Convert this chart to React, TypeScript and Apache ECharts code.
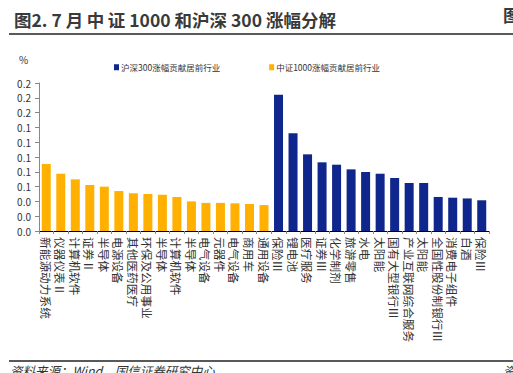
import React, { useEffect, useRef } from "react";
import * as echarts from "echarts";

const categories = [
  "新能源动力系统", "仪器仪表Ⅱ", "计算机软件", "证券Ⅱ", "半导体", "电源设备", "其他医药医疗", "环保及公用事业",
  "半导体", "计算机软件", "半导体", "电气设备", "元器件", "电气设备", "商用车", "通用设备",
  "保险Ⅲ", "锂电池", "医疗服务", "证券Ⅲ", "化学制剂", "旅游零售", "水电", "太阳能",
  "国有大型银行Ⅲ", "产业互联网综合服务", "太阳能", "全国性股份制银行Ⅲ", "消费电子组件", "白酒", "保险Ⅲ",
];

const zz1000Values = [0.0905, 0.0774, 0.0698, 0.0622, 0.0599, 0.054, 0.051, 0.05, 0.049, 0.046, 0.04, 0.038, 0.038, 0.0374, 0.0365, 0.035];
const hs300Values = [0.184, 0.132, 0.1036, 0.0928, 0.0896, 0.0833, 0.0797, 0.0774, 0.0716, 0.0649, 0.0649, 0.046, 0.045, 0.044, 0.0415];

const hs300Name = "沪深300涨幅贡献居前行业";
const zz1000Name = "中证1000涨幅贡献居前行业";

const ORANGE = "#FFB000";
const BLUE = "#0F278C";
const FONT = "'Noto Sans CJK SC', 'Liberation Sans', sans-serif";

export default function App() {
  const ref = useRef<HTMLDivElement>(null);
  useEffect(() => {
    if (!ref.current) return;
    const chart = echarts.init(ref.current, undefined, { renderer: "svg" });
    const orangeData = categories.map((_, i) => (i < zz1000Values.length ? zz1000Values[i] : null));
    const blueData = categories.map((_, i) => (i >= zz1000Values.length ? hs300Values[i - zz1000Values.length] : null));
    chart.setOption({
      animation: false,
      backgroundColor: "#fff",
      textStyle: { fontFamily: FONT },
      title: {
        text: "图2. 7 月\u2009中\u2009证 1000 和沪深 300 涨幅分解",
        left: 9,
        top: 6,
        textStyle: { fontSize: 17.5, fontWeight: "bold", color: "#3a3a3a", fontFamily: FONT },
      },
      graphic: [
        { type: "text", left: 503, top: 6, style: { text: "图", fill: "#3a3a3a", font: "bold 17.5px " + FONT } },
        { type: "line", shape: { x1: 9, y1: 34, x2: 513, y2: 34 }, style: { stroke: "#222", lineWidth: 1.5 } },
        { type: "text", left: 19, top: 54, style: { text: "%", fill: "#333", font: "10px " + FONT } },
        { type: "line", shape: { x1: 9, y1: 361, x2: 513, y2: 361 }, style: { stroke: "#222", lineWidth: 1.5 } },
        { type: "text", left: 10, top: 364, style: { text: "资料来源：Wind，国信证券研究中心", fill: "#333", font: "italic 12.5px " + FONT } },
        { type: "text", left: 503, top: 364, style: { text: "资", fill: "#333", font: "italic 12.5px " + FONT } },
      ],
      legend: {
        data: [hs300Name, zz1000Name],
        top: 58,
        left: 109,
        itemWidth: 5,
        itemHeight: 6,
        itemGap: 49,
        icon: "rect",
        textStyle: { fontSize: 8.5, color: "#333", fontFamily: FONT, padding: [0, 0, 0, -3] },
      },
      grid: { left: 39, right: 24, top: 83, bottom: 142, containLabel: false },
      xAxis: {
        type: "category",
        data: categories,
        axisLine: { lineStyle: { color: "#000", width: 1 } },
        axisTick: { show: true, length: 3, lineStyle: { color: "#888" } },
        axisLabel: { rotate: -90, interval: 0, fontSize: 11.7, color: "#333", margin: 6, fontFamily: FONT },
      },
      yAxis: {
        type: "value",
        min: 0,
        max: 0.2,
        interval: 0.02,
        splitLine: { show: false },
        axisLine: { show: true, lineStyle: { color: "#888" } },
        axisTick: { show: true, length: 4, lineStyle: { color: "#888" } },
        axisLabel: { formatter: (v: number) => v.toFixed(1), fontSize: 10, color: "#333", margin: 8, fontFamily: FONT },
      },
      series: [
        { name: hs300Name, type: "bar", data: blueData, barWidth: 9, barGap: "-100%", itemStyle: { color: BLUE } },
        { name: zz1000Name, type: "bar", data: orangeData, barWidth: 9, barGap: "-100%", itemStyle: { color: ORANGE } },
      ],
    });
    return () => chart.dispose();
  }, []);
  return <div ref={ref} style={{ position: "absolute", left: 0, top: 0, width: 513, height: 373 }} />;
}
